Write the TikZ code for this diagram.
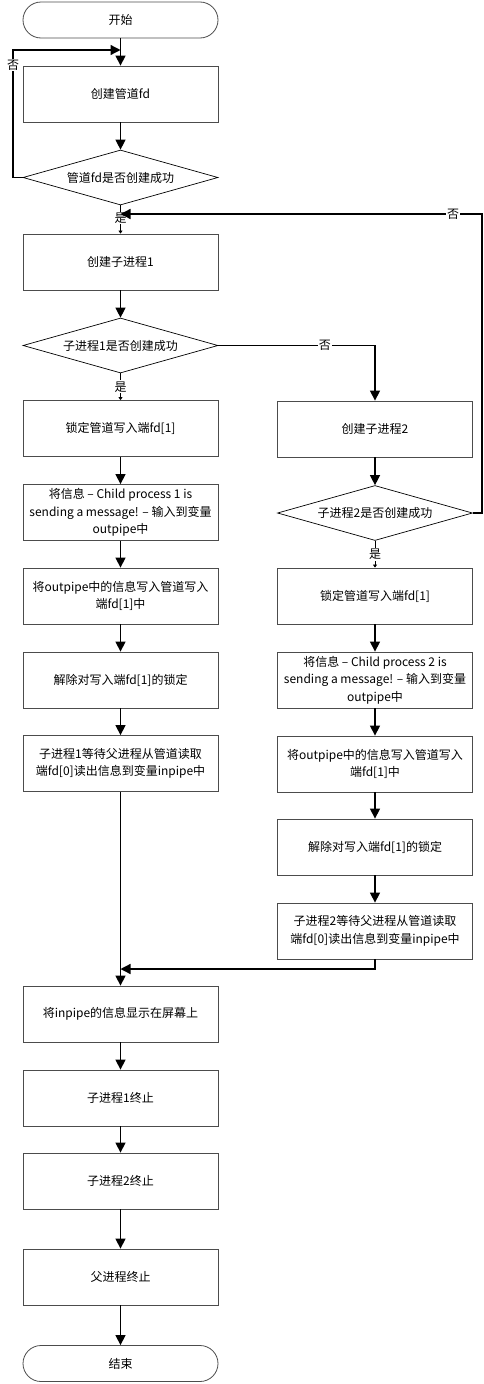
\documentclass[tikz,border=0pt]{standalone}
\usepackage{fontspec}
\usepackage{xcolor}
\usepackage{tikz}
\usetikzlibrary{shapes.geometric,arrows.meta}
\newfontfamily\cjk{Noto Sans CJK SC}

\begin{document}
\begin{tikzpicture}[x=1pt,y=-1pt,font=\cjk\fontsize{12}{17.5}\selectfont,
  proc/.style={draw=black!70, line width=0.8pt, minimum width=195pt, minimum height=56pt, inner sep=0pt, align=center},
  term/.style={proc, rounded corners=18pt, minimum height=36pt},
  decide/.style={draw, line width=0.7pt, shape=diamond, aspect=3.5, inner sep=0pt, minimum width=195pt, minimum height=55pt},
  flow/.style={line width=1.3pt, -{Triangle[length=10pt,width=10pt]}},
  yesflow/.style={line width=0.7pt, -{Triangle[length=3pt,width=4pt]}},
  lbl/.style={fill=white, inner sep=1pt}]
\useasboundingbox (0,0) rectangle (483,1384);

% left column
\node[term] (start) at (120.5,20) {开始};
\node[proc] (mkpipe) at (120.5,94) {创建管道fd};
\node[decide] (chkpipe) at (120.5,177.5) {管道fd是否创建成功};
\node[proc] (mkchild1) at (120.5,262) {创建子进程1};
\node[decide] (chkchild1) at (120.5,345.5) {子进程1是否创建成功};
\node[proc] (lock1) at (120.5,428.5) {锁定管道写入端fd[1]};
\node[proc] (msg1) at (120.5,512.5) {将信息 – Child process 1 is\\sending a message! – 输入到变量\\outpipe中};
\node[proc] (write1) at (120.5,596) {将outpipe中的信息写入管道写入\\端fd[1]中};
\node[proc] (unlock1) at (120.5,680) {解除对写入端fd[1]的锁定};
\node[proc] (wait1) at (120.5,763.5) {子进程1等待父进程从管道读取\\端fd[0]读出信息到变量inpipe中};

% right column
\node[proc] (mkchild2) at (375,429) {创建子进程2};
\node[decide] (chkchild2) at (375,513) {子进程2是否创建成功};
\node[proc] (lock2) at (375,596) {锁定管道写入端fd[1]};
\node[proc] (msg2) at (375,680) {将信息 – Child process 2 is\\sending a message! – 输入到变量\\outpipe中};
\node[proc] (write2) at (375,764) {将outpipe中的信息写入管道写入\\端fd[1]中};
\node[proc] (unlock2) at (375,847) {解除对写入端fd[1]的锁定};
\node[proc] (wait2) at (375,931) {子进程2等待父进程从管道读取\\端fd[0]读出信息到变量inpipe中};

% bottom
\node[proc] (show) at (120.5,1014) {将inpipe的信息显示在屏幕上};
\node[proc] (end1) at (120.5,1098) {子进程1终止};
\node[proc] (end2) at (120.5,1181) {子进程2终止};
\node[proc] (endp) at (120.5,1277) {父进程终止};
\node[term] (stop) at (120.5,1363.5) {结束};

\coordinate (retry1) at (120.5,50);
\coordinate (retry2) at (120.5,214);
\coordinate (join) at (120.5,969);

\draw[flow] (start) -- (mkpipe);
\draw[flow] (mkpipe) -- (chkpipe);
\draw[flow] (chkpipe.west) -- (13,177.5) -- node[lbl, pos=0.88] {否} (13,50) -- (retry1);
\draw[yesflow] (chkpipe.south) -- node[lbl, pos=0.45] {是} (mkchild1.north);
\draw[flow] (mkchild1) -- (chkchild1);
\draw[flow] (chkchild1.east) -| node[lbl, pos=0.34] {否} (mkchild2.north);
\draw[yesflow] (chkchild1.south) -- node[lbl, pos=0.5] {是} (lock1.north);
\draw[flow] (lock1) -- (msg1);
\draw[flow] (msg1) -- (write1);
\draw[flow] (write1) -- (unlock1);
\draw[flow] (unlock1) -- (wait1);
\draw[flow] (wait1) -- (show);

\draw[flow] (mkchild2) -- (chkchild2);
\draw[flow] (chkchild2.east) -- (482,513) -- (482,214) -- node[lbl, pos=0.08] {否} (retry2);
\draw[yesflow] (chkchild2.south) -- node[lbl, pos=0.5] {是} (lock2.north);
\draw[flow] (lock2) -- (msg2);
\draw[flow] (msg2) -- (write2);
\draw[flow] (write2) -- (unlock2);
\draw[flow] (unlock2) -- (wait2);
\draw[flow] (wait2.south) |- (join);

\draw[flow] (show) -- (end1);
\draw[flow] (end1) -- (end2);
\draw[flow] (end2) -- (endp);
\draw[flow] (endp) -- (stop);
\end{tikzpicture}
\end{document}
